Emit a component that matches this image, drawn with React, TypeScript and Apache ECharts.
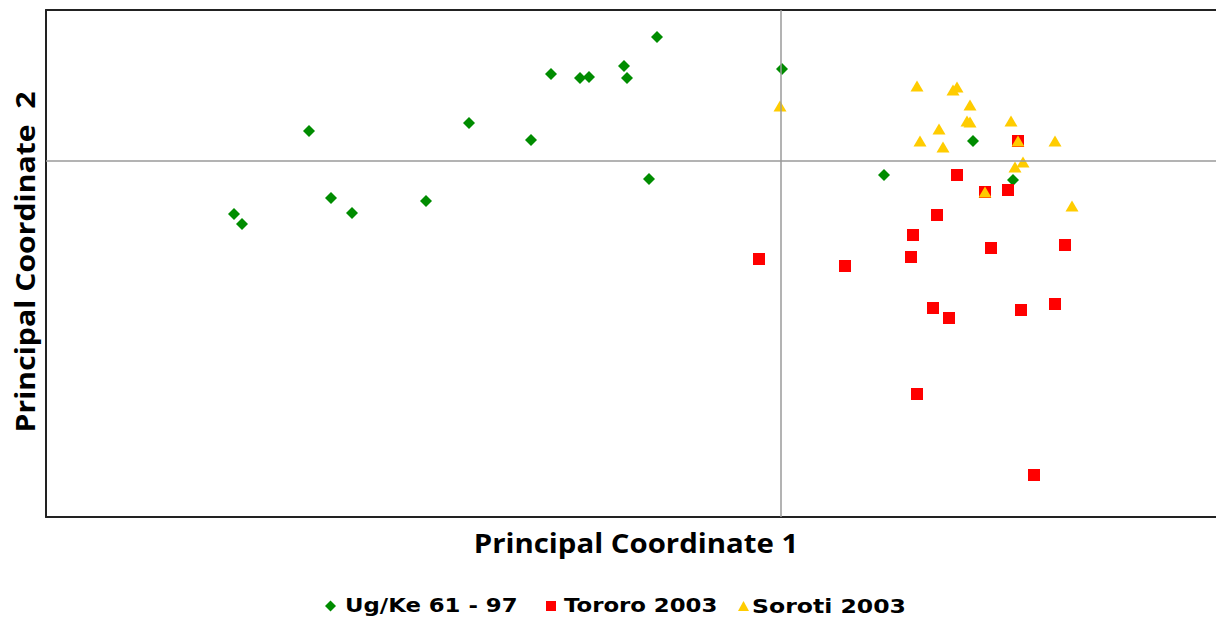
import React, { useEffect, useRef } from "react";
import * as echarts from "echarts";

const seriesNames = ["Ug/Ke 61 - 97", "Tororo 2003", "Soroti 2003"];
const seriesColors = ["#008c00", "#ff0000", "#ffcc00"];

const ugKe: number[][] = [
  [-4.72, 0.30], [-5.47, -0.53], [-5.39, -0.63], [-4.50, -0.37], [-4.29, -0.52],
  [-1.24, 1.24], [-2.30, 0.87], [-2.01, 0.83], [-1.92, 0.84], [-1.57, 0.95],
  [-1.54, 0.83], [0.01, 0.92], [-3.12, 0.38], [-2.50, 0.21], [-1.32, -0.18],
  [-3.55, -0.40], [1.92, 0.20], [1.03, -0.14], [2.32, -0.19],
];

const tororo: number[][] = [
  [-0.22, -0.98], [1.76, -0.14], [2.04, -0.31], [2.27, -0.29], [2.37, 0.20],
  [1.56, -0.54], [1.32, -0.74], [1.30, -0.96], [0.64, -1.05], [2.10, -0.87],
  [2.84, -0.84], [1.52, -1.47], [1.68, -1.57], [2.40, -1.49], [2.74, -1.43],
  [1.36, -2.33], [2.53, -3.14],
];

const soroti: number[][] = [
  [-0.01, 0.55], [1.36, 0.75], [1.72, 0.71], [1.76, 0.74], [1.89, 0.56],
  [1.86, 0.40], [1.89, 0.39], [2.30, 0.40], [1.58, 0.32], [1.39, 0.20],
  [1.62, 0.14], [2.37, 0.20], [2.74, 0.20], [2.42, -0.01], [2.34, -0.06],
  [2.04, -0.31], [2.91, -0.45],
];

const xRange = [-7.35, 4.35];
const yRange = [-3.56, 1.51];

const xTitle = "Principal Coordinate 1";
const yTitle = "Principal Coordinate  2";

export default function App() {
  const ref = useRef<HTMLDivElement>(null);
  useEffect(() => {
    if (!ref.current) return;
    const chart = echarts.init(ref.current, null, { renderer: "svg" });
    const frameLine = { show: true, onZero: false, lineStyle: { color: "#222", width: 2 } };
    const hidden = { axisTick: { show: false }, axisLabel: { show: false }, splitLine: { show: false } };
    const legendFont = { fontFamily: "DejaVu Sans", fontWeight: "bold", fontSize: 19, fill: "#000", align: "left", verticalAlign: "middle" };
    const ly = 606;
    chart.setOption({
      animation: false,
      grid: { left: 46, top: 10, right: 0, bottom: 102 },
      xAxis: [
        { type: "value", position: "bottom", min: xRange[0], max: xRange[1], axisLine: frameLine, ...hidden },
        { type: "value", position: "top", min: xRange[0], max: xRange[1], axisLine: frameLine, ...hidden },
      ],
      yAxis: [
        { type: "value", position: "left", min: yRange[0], max: yRange[1], axisLine: frameLine, ...hidden },
      ],
      graphic: [
        {
          type: "text", x: 636, y: 543, scaleX: 1.13,
          style: { text: xTitle, fontFamily: "Open Sans", fontWeight: "bold", fontSize: 26, fill: "#000", align: "center", verticalAlign: "middle" },
        },
        {
          type: "text", x: 25, y: 262, rotation: Math.PI / 2, scaleX: 1.16,
          style: { text: yTitle, fontFamily: "Open Sans", fontWeight: "bold", fontSize: 26, fill: "#000", align: "center", verticalAlign: "middle" },
        },
        { type: "polygon", shape: { points: [[330.5, ly - 5.5], [336, ly], [330.5, ly + 5.5], [325, ly]] }, style: { fill: seriesColors[0] } },
        { type: "text", x: 345, y: ly, scaleX: 1.2, style: { ...legendFont, text: seriesNames[0] } },
        { type: "rect", shape: { x: 546, y: ly - 5, width: 10, height: 10 }, style: { fill: seriesColors[1] } },
        { type: "text", x: 564, y: ly, scaleX: 1.2, style: { ...legendFont, text: seriesNames[1] } },
        { type: "polygon", shape: { points: [[743.5, ly - 5], [749, ly + 5], [738, ly + 5]] }, style: { fill: seriesColors[2] } },
        { type: "text", x: 752, y: ly, scaleX: 1.24, style: { ...legendFont, text: seriesNames[2] } },
      ],
      series: [
        {
          name: "zero", type: "scatter", data: [], z: 1, silent: true,
          markLine: {
            silent: true, symbol: ["none", "none"], label: { show: false },
            lineStyle: { color: "#9a9a9a", width: 1.5, type: "solid" },
            data: [{ xAxis: 0 }, { yAxis: 0 }],
          },
        },
        { name: seriesNames[0], type: "scatter", z: 3, data: ugKe, symbol: "diamond", symbolSize: 12, itemStyle: { color: seriesColors[0], opacity: 1 } },
        { name: seriesNames[1], type: "scatter", z: 3, data: tororo, symbol: "rect", symbolSize: 12, itemStyle: { color: seriesColors[1], opacity: 1 } },
        { name: seriesNames[2], type: "scatter", z: 3, data: soroti, symbol: "triangle", symbolSize: [13, 11], itemStyle: { color: seriesColors[2], opacity: 1 } },
      ],
    });
    return () => chart.dispose();
  }, []);
  return <div ref={ref} style={{ position: "absolute", left: 0, top: 0, width: 1216, height: 619 }} />;
}
